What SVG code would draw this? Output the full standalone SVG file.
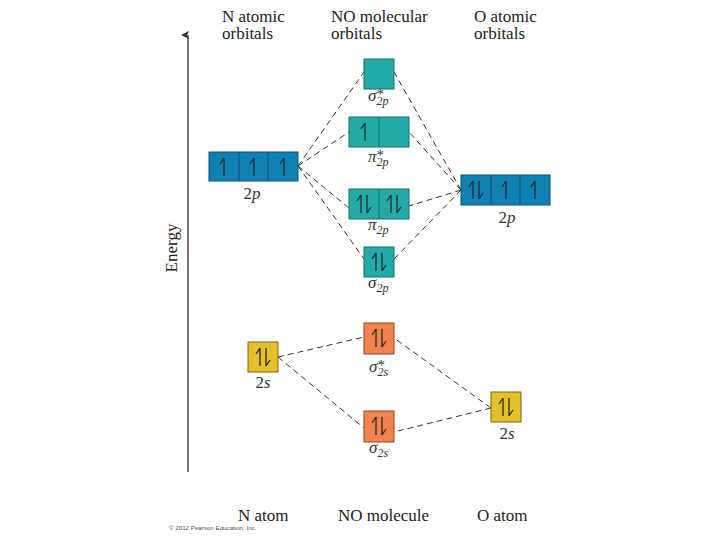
<svg xmlns="http://www.w3.org/2000/svg" xmlns:xlink="http://www.w3.org/1999/xlink" width="720" height="540" viewBox="0 0 720 540">
<style>
.t{font-family:"Liberation Serif",serif;font-size:17px;fill:#222}
.lab{font-family:"Liberation Serif",serif;font-size:17px;fill:#333;text-anchor:middle}
.g{font-family:"Liberation Serif",serif;font-size:17px;fill:#333;font-style:italic}
.star{font-size:15px;font-style:normal}
.sub{font-size:12px;font-style:italic}
.it{font-style:italic}
.blue{fill:#0f80b2;stroke:#0a4f70;stroke-width:1}
.teal{fill:#22aba8;stroke:#146e6c;stroke-width:1}
.orange{fill:#f2824e;stroke:#8e4424;stroke-width:1}
.yellow{fill:#e6c02a;stroke:#7a6410;stroke-width:1}
.cl{fill:none;stroke:#333;stroke-width:1;stroke-dasharray:6,4}
.spin{fill:none;stroke:#2a2a2a;stroke-width:1.3}
</style>
<defs>
<g id="up"><path class="spin" d="M0,-9 V9 M0,-9 L-4,-3"/></g>
<g id="pair"><path class="spin" d="M-3,-9 V9 M-3,-9 L-7,-3 M3,9 V-9 M3,9 L7,3"/></g>
<marker id="ah" markerWidth="8" markerHeight="8" refX="4" refY="7" orient="auto-start-reverse" markerUnits="userSpaceOnUse"><path d="M0,8 L4,0 L8,8 L4,6 Z" fill="#333"/></marker>
</defs>
<rect width="720" height="540" fill="#fff"/>
<g id="headers">
<text class="t" x="222" y="22">N atomic</text><text class="t" x="222" y="39">orbitals</text>
<text class="t" x="331" y="22">NO molecular</text><text class="t" x="331" y="39">orbitals</text>
<text class="t" x="474" y="22">O atomic</text><text class="t" x="474" y="39">orbitals</text>
<text class="t" x="238" y="521">N atom</text>
<text class="t" x="338" y="521">NO molecule</text>
<text class="t" x="477" y="521">O atom</text>
<text x="169" y="530" style="font-family:'Liberation Sans',sans-serif;font-size:6.2px;fill:#555">© 2012 Pearson Education, Inc.</text>
</g>
<g id="axis">
<line x1="188" y1="472" x2="188" y2="35" stroke="#333" stroke-width="1.3" marker-end="url(#ah)"/>
<text class="t" transform="translate(177,248) rotate(-90)" text-anchor="middle">Energy</text>
</g>
<g id="connectors">
<path class="cl" d="M298,166 L364,72 M298,166 L349,132 M298,166 L349,208 M298,166 L364,259"/>
<path class="cl" d="M461,190 L394,72 M461,190 L409,132 M461,190 L409,206 M461,190 L394,259"/>
<path class="cl" d="M278,357 L364,337 M278,357 L364,428"/>
<path class="cl" d="M491,408 L394,338 M491,408 L394,432"/>
</g>
<g id="N2p">
<rect class="blue" x="209" y="152" width="89" height="29"/>
<line x1="239" y1="152" x2="239" y2="181" stroke="#0a4f70"/><line x1="268" y1="152" x2="268" y2="181" stroke="#0a4f70"/>
<use xlink:href="#up" x="224" y="167"/><use xlink:href="#up" x="254" y="167"/><use xlink:href="#up" x="284" y="167"/>
<text class="lab" x="252" y="199">2<tspan class="it">p</tspan></text>
</g>
<g id="sigma2p_star">
<rect class="teal" x="364" y="59" width="30" height="30"/>
<text class="g" x="368" y="101">σ<tspan class="star" dy="-2">*</tspan><tspan class="sub" dx="-7.5" dy="6">2p</tspan></text>
</g>
<g id="pi2p_star">
<rect class="teal" x="349" y="117" width="60" height="30"/>
<line x1="379" y1="117" x2="379" y2="147" stroke="#146e6c"/>
<use xlink:href="#up" x="365" y="132"/>
<text class="g" x="368" y="162">π<tspan class="star" dy="-2">*</tspan><tspan class="sub" dx="-7.5" dy="6">2p</tspan></text>
</g>
<g id="pi2p">
<rect class="teal" x="349" y="189" width="60" height="30"/>
<line x1="379" y1="189" x2="379" y2="219" stroke="#146e6c"/>
<use xlink:href="#pair" x="364" y="204"/><use xlink:href="#pair" x="394" y="204"/>
<text class="g" x="368" y="230">π<tspan class="sub" dy="4">2p</tspan></text>
</g>
<g id="sigma2p">
<rect class="teal" x="364" y="247" width="30" height="30"/>
<use xlink:href="#pair" x="379" y="262"/>
<text class="g" x="368" y="288">σ<tspan class="sub" dy="4">2p</tspan></text>
</g>
<g id="O2p">
<rect class="blue" x="461" y="175" width="89" height="30"/>
<line x1="491" y1="175" x2="491" y2="205" stroke="#0a4f70"/><line x1="520" y1="175" x2="520" y2="205" stroke="#0a4f70"/>
<use xlink:href="#pair" x="476" y="190"/><use xlink:href="#up" x="506" y="190"/><use xlink:href="#up" x="535" y="190"/>
<text class="lab" x="507" y="223">2<tspan class="it">p</tspan></text>
</g>
<g id="N2s">
<rect class="yellow" x="248" y="342" width="30" height="30"/>
<use xlink:href="#pair" x="263" y="357"/>
<text class="lab" x="263" y="388">2<tspan class="it">s</tspan></text>
</g>
<g id="sigma2s_star">
<rect class="orange" x="364" y="323" width="30" height="31"/>
<use xlink:href="#pair" x="379" y="338"/>
<text class="g" x="369" y="372">σ<tspan class="star" dy="-2">*</tspan><tspan class="sub" dx="-7.5" dy="6">2s</tspan></text>
</g>
<g id="sigma2s">
<rect class="orange" x="364" y="411" width="30" height="31"/>
<use xlink:href="#pair" x="379" y="426"/>
<text class="g" x="369" y="453">σ<tspan class="sub" dy="4">2s</tspan></text>
</g>
<g id="O2s">
<rect class="yellow" x="491" y="392" width="30" height="30"/>
<use xlink:href="#pair" x="506" y="407"/>
<text class="lab" x="507" y="439">2<tspan class="it">s</tspan></text>
</g>
</svg>
